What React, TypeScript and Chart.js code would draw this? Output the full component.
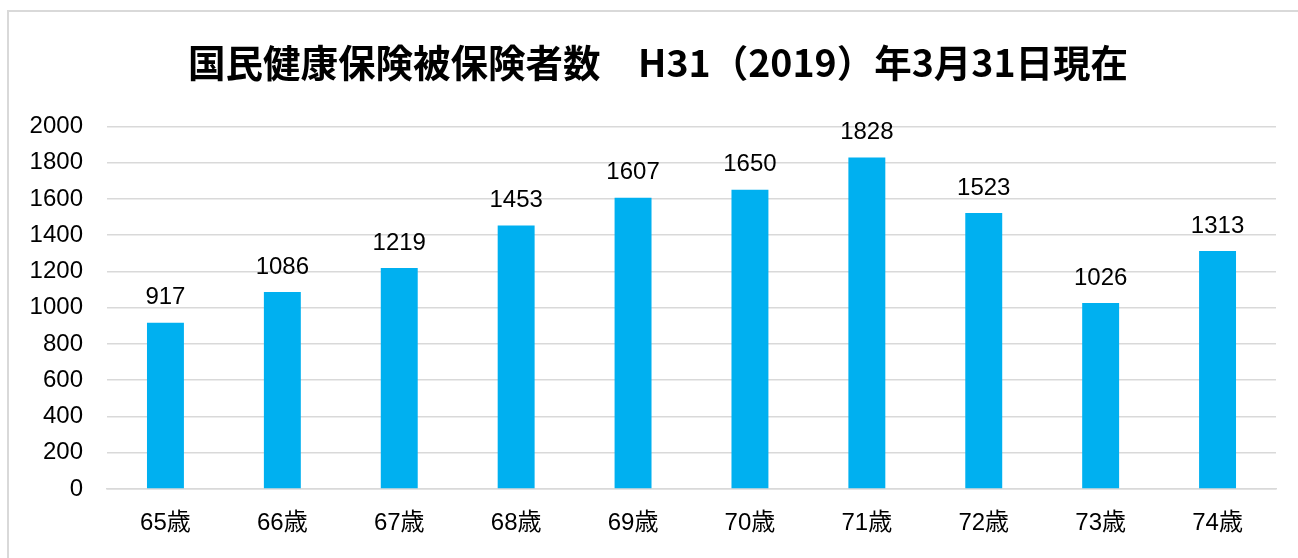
import React, { useEffect, useRef } from "react";
import { Chart, registerables } from "chart.js";

Chart.register(...registerables);

const TITLE = "国民健康保険被保険者数　H31（2019）年3月31日現在";
const categories = ["65歳", "66歳", "67歳", "68歳", "69歳", "70歳", "71歳", "72歳", "73歳", "74歳"];
const values = [917, 1086, 1219, 1453, 1607, 1650, 1828, 1523, 1026, 1313];
const yMin = 0;
const yMax = 2000;
const yStep = 200;

const FONT = "'Liberation Sans', Arial, 'Noto Sans CJK JP', sans-serif";

const dataLabelPlugin = {
  id: "dataLabels",
  afterDatasetsDraw(chart: any) {
    const ctx = chart.ctx;
    const meta = chart.getDatasetMeta(0);
    ctx.save();
    ctx.font = `24px ${FONT}`;
    ctx.fillStyle = "#000000";
    ctx.textAlign = "center";
    ctx.textBaseline = "middle";
    meta.data.forEach((bar: any, i: number) => {
      ctx.fillText(String(values[i]), bar.x, bar.y - 25);
    });
    ctx.restore();
  },
};

const titlePlugin = {
  id: "customTitle",
  afterDraw(chart: any) {
    const ctx = chart.ctx;
    ctx.save();
    ctx.font = `bold 37.5px 'Noto Sans CJK JP', sans-serif`;
    ctx.fillStyle = "#000000";
    ctx.textAlign = "center";
    ctx.textBaseline = "middle";
    ctx.fillText(TITLE, 658, 63);
    ctx.restore();
  },
};

export default function App() {
  const ref = useRef<HTMLCanvasElement | null>(null);

  useEffect(() => {
    if (!ref.current) return;
    const chart = new Chart(ref.current, {
      type: "bar",
      data: {
        labels: categories,
        datasets: [
          {
            data: values,
            backgroundColor: "#00B0F0",
            borderWidth: 0,
            categoryPercentage: 1,
            barPercentage: 0.316,
          },
        ],
      },
      options: {
        animation: false,
        responsive: false,
        maintainAspectRatio: false,
        layout: { padding: { left: 0, right: 22, top: 126.4, bottom: 0 } },
        plugins: {
          legend: { display: false },
          tooltip: { enabled: false },
          title: { display: false },
        },
        scales: {
          x: {
            grid: { display: false, drawTicks: false },
            border: { display: true, color: "#d9d9d9", width: 1.5 },
            ticks: {
              color: "#000000",
              font: { family: FONT, size: 24 },
              padding: 20,
            },
            afterFit(scale: any) {
              scale.height = 69;
            },
          },
          y: {
            min: yMin,
            max: yMax,
            grid: { color: "#d9d9d9", lineWidth: 1.5, drawTicks: false },
            border: { display: false },
            ticks: {
              stepSize: yStep,
              color: "#000000",
              font: { family: FONT, size: 24 },
              padding: 24,
              callback: (v: any) => String(v),
            },
            afterFit(scale: any) {
              scale.width = 107;
            },
          },
        },
      },
      plugins: [dataLabelPlugin, titlePlugin],
    });
    return () => chart.destroy();
  }, []);

  return (
    <div style={{ position: "fixed", left: 0, top: 0, width: 1298, height: 558, overflow: "hidden", background: "#fff" }}>
      <div
        style={{
          position: "absolute",
          left: 7,
          top: 10,
          width: 2000,
          height: 2000,
          borderLeft: "2px solid #d9d9d9",
          borderTop: "2px solid #d9d9d9",
        }}
      />
      <canvas ref={ref} width={1298} height={558} style={{ position: "absolute", left: 0, top: 0 }} />
    </div>
  );
}
